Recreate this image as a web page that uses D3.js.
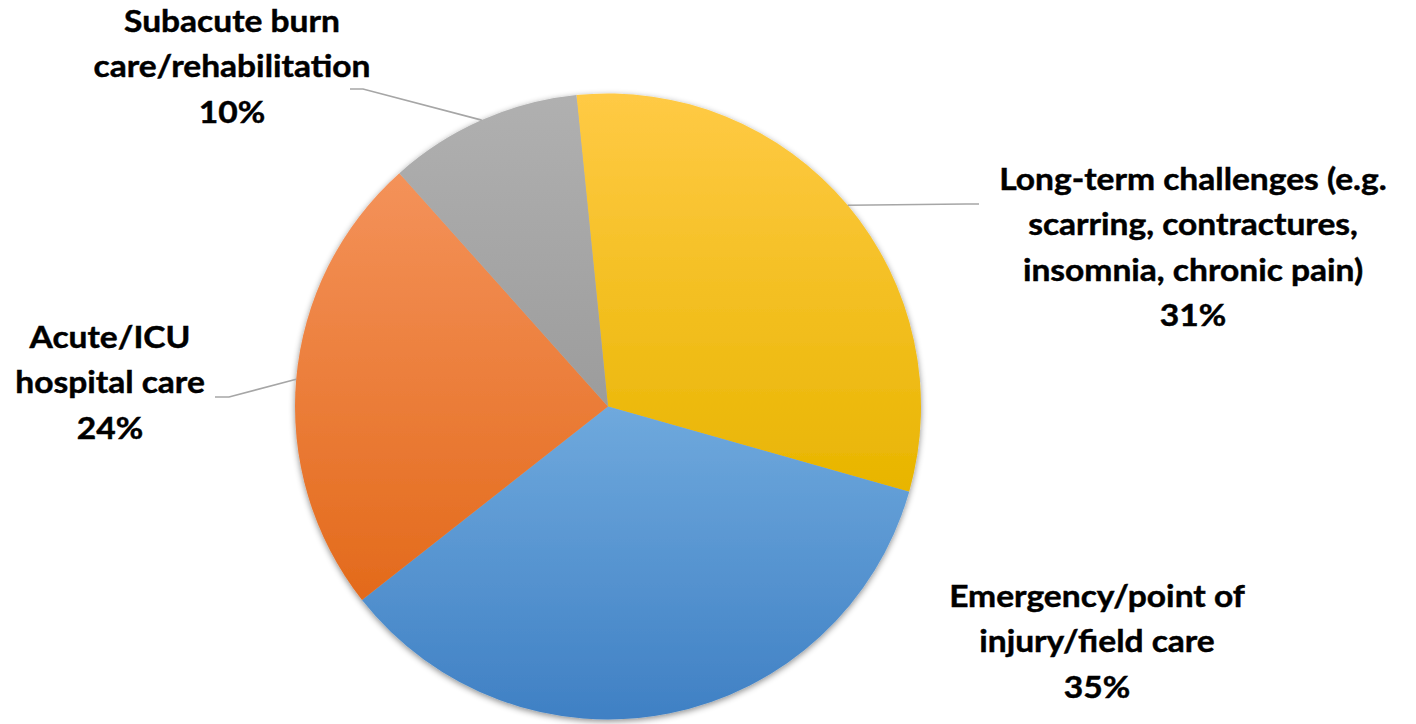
<!DOCTYPE html>
<html><head><meta charset="utf-8">
<script src="https://cdn.jsdelivr.net/npm/d3@7"></script>
<style>
html,body{margin:0;padding:0;background:#fff;}
svg{display:block;}
text{font-family:Lato,"Open Sans",sans-serif;font-weight:700;fill:#000;stroke:#000;stroke-width:0.45px;}
</style></head>
<body>
<script>
// ---- data ----
const categories = [
  "Long-term challenges (e.g. scarring, contractures, insomnia, chronic pain)",
  "Emergency/point of injury/field care",
  "Acute/ICU hospital care",
  "Subacute burn care/rehabilitation"
];
const values = [31, 35, 24, 10];
const labelLines = [
  ["Long-term challenges (e.g.", "scarring, contractures,", "insomnia, chronic pain)"],
  ["Emergency/point of", "injury/field care"],
  ["Acute/ICU", "hospital care"],
  ["Subacute burn", "care/rehabilitation"]
];

// ---- layout / style ----
const W = 1416, H = 724;
const cx = 608, cy = 406.5, R = 313;
const startRot = -5.8 * Math.PI / 180;
const colorsTop = ["#FFCA45", "#6FA9DD", "#F4925A", "#B0B0B0"];
const colorsBot = ["#E8B500", "#3F80C4", "#E36A1B", "#9C9C9C"];
const labelPos = [[1193, 190], [1097, 607], [110, 348], [232, 32]];
const leaders = [
  [[966, 204], [979, 204]],
  null,
  [[229, 397], [215, 397]],
  [[363, 89], [350, 89]]
];
const lineH = 45.3;
const fontSize = 30.5;
const stretchX = 1.1;

const svg = d3.select("body").append("svg").attr("width", W).attr("height", H);
const defs = svg.append("defs");
const f = defs.append("filter").attr("id", "sh").attr("x", "-10%").attr("y", "-10%").attr("width", "120%").attr("height", "120%");
f.append("feDropShadow").attr("dx", 0).attr("dy", 2).attr("stdDeviation", 3).attr("flood-color", "#000").attr("flood-opacity", 0.45);

values.forEach((v, i) => {
  const g = defs.append("linearGradient").attr("id", "g" + i).attr("x1", 0).attr("y1", 0).attr("x2", 0).attr("y2", 1);
  g.append("stop").attr("offset", "0%").attr("stop-color", colorsTop[i]);
  g.append("stop").attr("offset", "100%").attr("stop-color", colorsBot[i]);
});

const pie = d3.pie().sort(null).value(d => d).startAngle(startRot).endAngle(startRot + 2 * Math.PI);
const arcs = pie(values);
const arc = d3.arc().innerRadius(0).outerRadius(R);
const outer = d3.arc().innerRadius(R).outerRadius(R);

const gp = svg.append("g").attr("transform", `translate(${cx},${cy})`).attr("filter", "url(#sh)");
gp.selectAll("path").data(arcs).join("path")
  .attr("d", arc)
  .attr("fill", (d, i) => `url(#g${i})`);

// leader lines
arcs.forEach((d, i) => {
  if (!leaders[i]) return;
  const p = outer.centroid(d);
  const pts = [[cx + p[0], cy + p[1]], ...leaders[i]];
  svg.append("path")
    .attr("d", d3.line()(pts))
    .attr("fill", "none")
    .attr("stroke", "#A6A6A6")
    .attr("stroke-width", 1.6);
});

// labels
const fmt = d3.format(".0%");
const total = d3.sum(values);
labelLines.forEach((lines, i) => {
  const all = lines.concat([fmt(values[i] / total)]);
  const t = svg.append("text")
    .attr("text-anchor", "middle")
    .attr("font-size", fontSize)
    .attr("transform", `translate(${labelPos[i][0]},0) scale(${stretchX},1)`);
  all.forEach((s, j) => {
    t.append("tspan").attr("x", 0).attr("y", labelPos[i][1] + j * lineH).text(s);
  });
});
</script>
</body></html>
